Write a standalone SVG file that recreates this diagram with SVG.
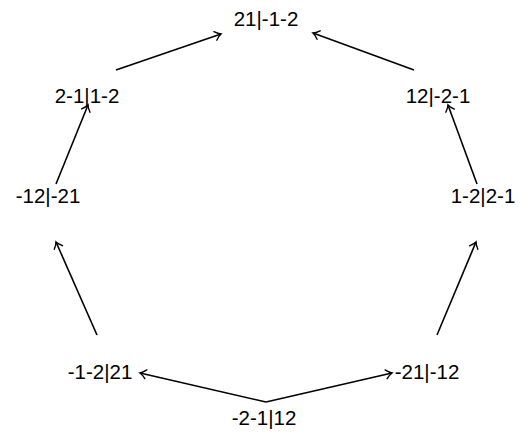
<svg xmlns="http://www.w3.org/2000/svg" width="525" height="433" viewBox="0 0 525 433">
<defs>
<style>
text{font-family:"Liberation Sans",Arial,sans-serif;font-size:20.5px;fill:#000;text-anchor:middle}
.e{fill:none;stroke:#000;stroke-width:1.6}
</style>
<marker id="ah" viewBox="-7 -6 9 12" markerWidth="9" markerHeight="12" refX="0" refY="0" orient="auto" markerUnits="userSpaceOnUse">
<path d="M-6,-4.5 Q-2.5,-1 0,0 Q-2.5,1 -6,4.5" fill="none" stroke="#000" stroke-width="1.4" stroke-linecap="round"/>
</marker>
</defs>
<rect width="525" height="433" fill="#fff"/>
<g id="edges">
<line class="e" x1="116" y1="70" x2="221" y2="34" marker-end="url(#ah)"/>
<line class="e" x1="414" y1="70" x2="313" y2="33" marker-end="url(#ah)"/>
<line class="e" x1="56" y1="184" x2="88" y2="105" marker-end="url(#ah)"/>
<line class="e" x1="477" y1="184" x2="448" y2="105" marker-end="url(#ah)"/>
<line class="e" x1="97" y1="335" x2="56" y2="242" marker-end="url(#ah)"/>
<line class="e" x1="437" y1="335" x2="476" y2="242" marker-end="url(#ah)"/>
<line class="e" x1="266" y1="402" x2="140" y2="373" marker-end="url(#ah)"/>
<line class="e" x1="266" y1="402" x2="392" y2="373" marker-end="url(#ah)"/>
</g>
<g id="n1"><text x="266" y="26">21|-1-2</text></g>
<g id="n2"><text x="87" y="103">2-1|1-2</text></g>
<g id="n3"><text x="438" y="103">12|-2-1</text></g>
<g id="n4"><text x="48" y="203">-12|-21</text></g>
<g id="n5"><text x="483" y="203">1-2|2-1</text></g>
<g id="n6"><text x="100" y="379">-1-2|21</text></g>
<g id="n7"><text x="427" y="379">-21|-12</text></g>
<g id="n8"><text x="264" y="425">-2-1|12</text></g>
</svg>
